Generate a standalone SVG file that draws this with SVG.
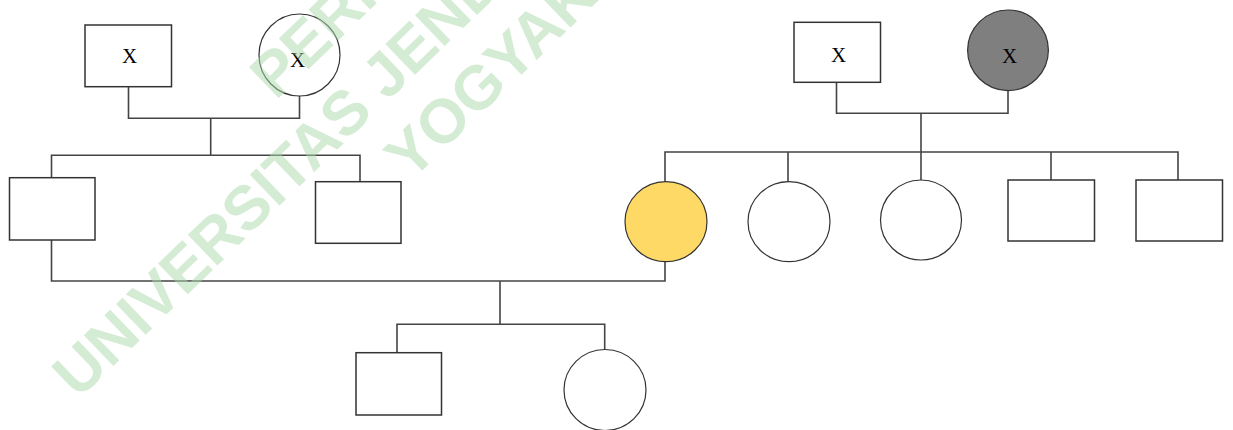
<svg xmlns="http://www.w3.org/2000/svg" width="1233" height="430" viewBox="0 0 1233 430">
<style>
.wm{font-family:"Liberation Sans",Arial,sans-serif;font-weight:bold;font-size:62px;fill:#a9d7a9;fill-opacity:0.5;text-anchor:middle}
.sq{fill:#fff;stroke:#333;stroke-width:1.5}
.ci{fill:#fff;stroke:#333;stroke-width:1.2}
.lbl{font-family:"Liberation Serif","Times New Roman",serif;font-size:21px;fill:#000;text-anchor:middle}
.ln{fill:none;stroke:#444;stroke-width:1.6}
</style>
<rect width="1233" height="430" fill="#fff"/>
<g id="connectors">
<path class="ln" d="M128.5,87 V118.3 H299.5 V96"/>
<path class="ln" d="M210.7,118.3 V155.3"/>
<path class="ln" d="M51.5,177.7 V155.3 H360 V181.7"/>
<path class="ln" d="M51.5,240 V281 H665 V262"/>
<path class="ln" d="M500,281 V324.3"/>
<path class="ln" d="M397,352.7 V324.3 H604.7 V349.5"/>
<path class="ln" d="M836.5,82.3 V113.3 H1008 V90.5"/>
<path class="ln" d="M921,113.3 V180"/>
<path class="ln" d="M665,181.7 V152 H1178 V180"/>
<path class="ln" d="M788,152 V181.7"/>
<path class="ln" d="M1051,152 V180"/>
</g>
<g id="gf-left"><rect class="sq" x="85" y="25" width="86.5" height="61.7"/><text class="lbl" x="129.5" y="63.3">X</text></g>
<g id="gm-left"><ellipse class="ci" cx="299.5" cy="55" rx="40.5" ry="41"/><text class="lbl" x="297.5" y="67">X</text></g>
<g id="son1"><rect class="sq" x="9.5" y="177.7" width="85.5" height="62.3"/></g>
<g id="son2"><rect class="sq" x="315.5" y="181.7" width="85.5" height="61.6"/></g>
<g id="gf-right"><rect class="sq" x="794" y="22.3" width="86.5" height="60"/><text class="lbl" x="838.5" y="62">X</text></g>
<g id="gm-right"><ellipse cx="1008" cy="50.3" rx="40.4" ry="40.3" fill="#7f7f7f" stroke="#333" stroke-width="1.2"/><text class="lbl" x="1009.5" y="62.5">X</text></g>
<g id="proband"><ellipse cx="666" cy="221.7" rx="41" ry="40" fill="#ffd966" stroke="#333" stroke-width="1.2"/></g>
<g id="daughter2"><ellipse class="ci" cx="789" cy="221.7" rx="41" ry="40"/></g>
<g id="daughter3"><ellipse class="ci" cx="921" cy="220" rx="40.5" ry="40"/></g>
<g id="son3"><rect class="sq" x="1008" y="180" width="86.5" height="61"/></g>
<g id="son4"><rect class="sq" x="1136" y="180" width="86.5" height="61"/></g>
<g id="child1"><rect class="sq" x="356" y="352.7" width="85.5" height="62.3"/></g>
<g id="child2"><ellipse class="ci" cx="605" cy="390" rx="41" ry="40.5"/></g>
<g id="watermark" transform="translate(514,-21) rotate(-44)">
<text class="wm" x="0" y="-78">PERPUSTAKAAN</text>
<text class="wm" x="0" y="0">UNIVERSITAS JENDERAL ACHMAD YANI</text>
<text class="wm" x="0" y="74">YOGYAKARTA</text>
</g>
</svg>
